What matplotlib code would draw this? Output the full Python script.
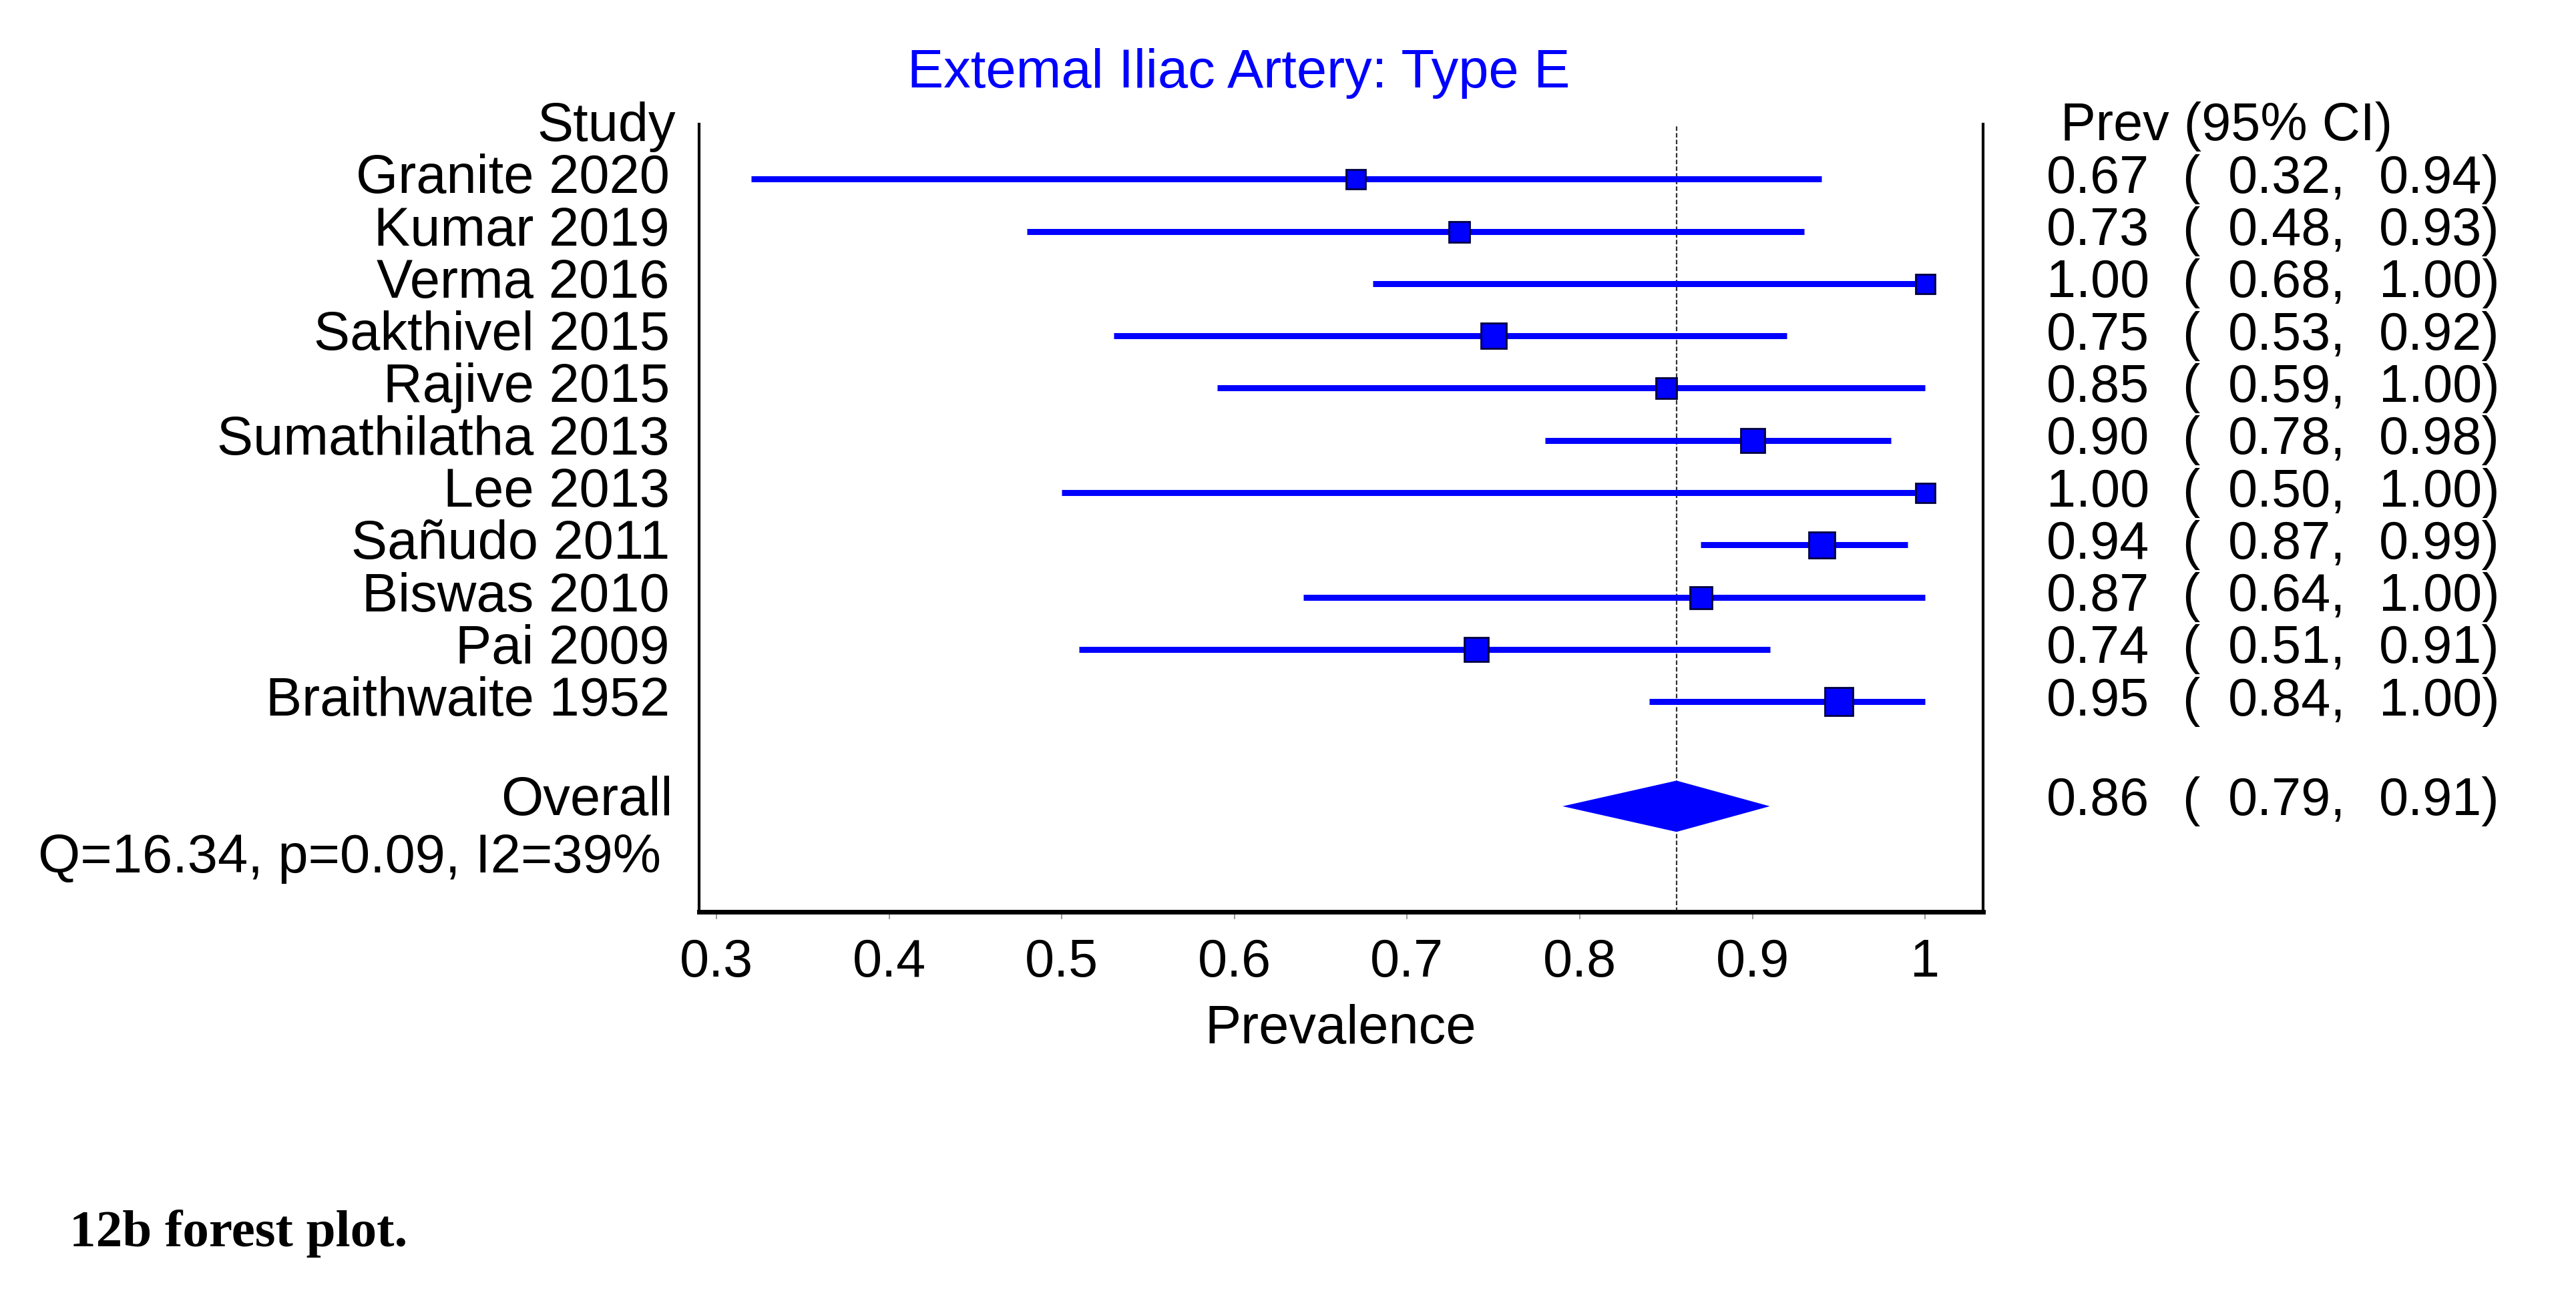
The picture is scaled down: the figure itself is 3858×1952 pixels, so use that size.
import matplotlib
matplotlib.use('Agg')
import matplotlib.pyplot as plt
import matplotlib.transforms as mtrans

# Study data
studies = ['Granite 2020', 'Kumar 2019', 'Verma 2016', 'Sakthivel 2015', 'Rajive 2015',
           'Sumathilatha 2013', 'Lee 2013', 'Sañudo 2011', 'Biswas 2010', 'Pai 2009',
           'Braithwaite 1952']
prev = [0.67, 0.73, 1.00, 0.75, 0.85, 0.90, 1.00, 0.94, 0.87, 0.74, 0.95]
lower = [0.32, 0.48, 0.68, 0.53, 0.59, 0.78, 0.50, 0.87, 0.64, 0.51, 0.84]
upper = [0.94, 0.93, 1.00, 0.92, 1.00, 0.98, 1.00, 0.99, 1.00, 0.91, 1.00]
# relative study weights, as box widths in pixels
box_px = [29, 31, 29, 38, 31, 36, 29, 39, 33, 36, 42]

overall_prev = 0.856
overall_lower = 0.79
overall_upper = 0.91
heterogeneity = 'Q=16.34, p=0.09, I2=39%'

xticks = [0.3, 0.4, 0.5, 0.6, 0.7, 0.8, 0.9, 1.0]
xtick_labels = ['0.3', '0.4', '0.5', '0.6', '0.7', '0.8', '0.9', '1']

plt.rcParams['font.family'] = ['Liberation Sans', 'DejaVu Sans']
W, H = 3858, 1952
fs = 57      # numbers column, tick labels
fs_lab = 58.5  # study names, title, axis label

fig = plt.figure(figsize=(W / 100, H / 100), dpi=100)
ax = fig.add_axes([1047 / W, 1 - 1366 / H, (2970 - 1047) / W, (1366 - 186) / H])

rows = list(range(len(studies)))
overall_row = len(studies) + 1
q_row = overall_row + 1

# confidence intervals and boxes
ax.hlines(rows, lower, upper, color='blue', lw=6.5, zorder=2)
for i in rows:
    ax.plot(prev[i], i, marker='s', ms=box_px[i] * 0.72, mfc='blue',
            mec='#000040', mew=2, zorder=3)

# pooled estimate
ax.fill([overall_lower, overall_prev, overall_upper, overall_prev],
        [overall_row, overall_row - 0.49, overall_row, overall_row + 0.49],
        color='blue', lw=0, zorder=3)
ax.axvline(overall_prev, color='#333333', lw=1.6, ls=(0, (3, 1.5)), zorder=1)

ax.set_xlim(0.29, 1.0335)
ax.set_ylim(14.02, -1.05)
ax.set_yticks([])
ax.set_xticks(xticks)
ax.set_xticklabels(xtick_labels, fontsize=fs)
ax.tick_params(axis='x', direction='out', length=8, width=1.2, color='#888888', pad=20)
ax.spines['top'].set_visible(False)
for s in ['left', 'right']:
    ax.spines[s].set_linewidth(3)
ax.spines['bottom'].set_linewidth(5)

tr = mtrans.blended_transform_factory(fig.transFigure, ax.transData)

# left column
ax.text(1012 / W, -1, 'Study', transform=tr, ha='right', va='center', fontsize=fs_lab, clip_on=False)
for i, name in enumerate(studies):
    ax.text(1003 / W, i, name, transform=tr, ha='right', va='center', fontsize=fs_lab, clip_on=False)
ax.text(1008 / W, overall_row - 0.1, 'Overall', transform=tr, ha='right', va='center',
        fontsize=fs_lab, clip_on=False)
ax.text(57 / W, q_row, heterogeneity, transform=tr, ha='left', va='center', fontsize=fs_lab, clip_on=False)

# right column
ax.text(3086 / W, -1, 'Prev (95% CI)', transform=tr, ha='left', va='center', fontsize=fs, clip_on=False)
def row_values(y, p, lo, hi):
    ax.text(3065 / W, y, f'{p:.2f}', transform=tr, ha='left', va='center', fontsize=fs, clip_on=False)
    ax.text(3268 / W, y, '(', transform=tr, ha='left', va='center', fontsize=fs, clip_on=False)
    ax.text(3337 / W, y, f'{lo:.2f},', transform=tr, ha='left', va='center', fontsize=fs, clip_on=False)
    ax.text(3563 / W, y, f'{hi:.2f})', transform=tr, ha='left', va='center', fontsize=fs, clip_on=False)

for i in rows:
    row_values(i, prev[i], lower[i], upper[i])
row_values(overall_row - 0.1, overall_prev, overall_lower, overall_upper)

fig.text(1855 / W, 1 - 110 / H, 'Extemal Iliac Artery: Type E', color='blue',
         ha='center', va='center', fontsize=fs_lab)
fig.text(2008 / W, 1 - 1542 / H, 'Prevalence', ha='center', va='center', fontsize=fs_lab)
fig.text(104 / W, 1 - 1848 / H, '12b forest plot.', ha='left', va='center',
         fontsize=fs, family='Liberation Serif', weight='bold')

fig.savefig('out.png', dpi=100)
